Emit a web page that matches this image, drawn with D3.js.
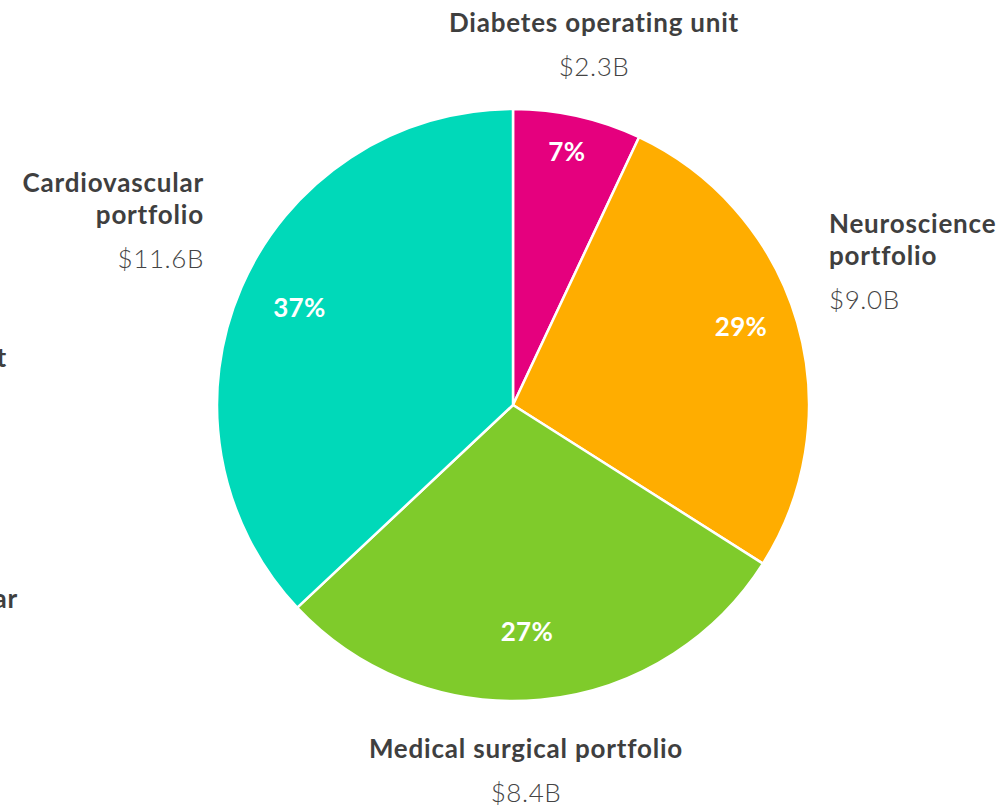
<!DOCTYPE html>
<meta charset="utf-8">
<head>
<title>Portfolio pie</title>
<script src="https://d3js.org/d3.v7.min.js"></script>
<style>
  body { margin: 0; background: #fff; }
  svg text { font-family: Lato, "Open Sans", sans-serif; }
  .name { font-weight: 700; fill: #3f3f3f; font-size: 26px; letter-spacing: 0.8px; }
  .value { font-weight: 300; fill: #444; font-size: 26px; letter-spacing: 0.6px; }
  .pct { font-weight: 700; fill: #fff; font-size: 26px; letter-spacing: 0.3px; }
</style>
</head>
<body>
<div id="chart"></div>
<script>
  // data (slice sizes follow the drawn geometry)
  let names = [["Diabetes operating unit"], ["Neuroscience", "portfolio"], ["Medical surgical portfolio"], ["Cardiovascular", "portfolio"]];
  let values = ["$2.3B", "$9.0B", "$8.4B", "$11.6B"];
  let pctLabels = ["7%", "29%", "27%", "37%"];
  let shares = [7, 27, 29, 37];
  let colors = ["#e5007e", "#ffad00", "#7fcb2b", "#00d9b9"];

  let w = 998, h = 808;
  let cx = 513, cy = 405, r = 296;

  // where the outside labels go: x, first baseline, anchor
  let labelPos = [[594, 32, "middle"], [829, 233, "start"], [526, 758, "middle"], [204, 192, "end"]];
  // percent labels: distance from centre and a small angle nudge (degrees)
  let pctRadius = [259, 241, 227, 235];
  let pctNudge = [-0.6, -2.7, 1.9, 1.2];

  let svg = d3.select("#chart").append("svg")
      .attr("width", w)
      .attr("height", h);

  let pie = d3.pie().sort(null).value((d) => d);
  let arcs = pie(shares);

  let arc = d3.arc().innerRadius(0).outerRadius(r);

  let g = svg.append("g").attr("transform", "translate(" + cx + "," + cy + ")");

  g.selectAll("path")
   .data(arcs)
   .enter()
   .append("path")
   .attr("d", arc)
   .style("fill", (d, i) => colors[i])
   .style("stroke", "white")
   .style("stroke-width", 2.5)
   .style("stroke-linejoin", "round");

  g.selectAll("text.pct")
   .data(arcs)
   .enter()
   .append("text")
   .attr("class", "pct")
   .attr("transform", (d, i) => {
       let a = (d.startAngle + d.endAngle) / 2 + pctNudge[i] * Math.PI / 180;
       let c = d3.arc().innerRadius(pctRadius[i]).outerRadius(pctRadius[i])
                 .startAngle(a).endAngle(a).centroid();
       return "translate(" + c[0] + "," + c[1] + ")";
   })
   .attr("text-anchor", "middle")
   .attr("dy", "0.36em")
   .text((d, i) => pctLabels[i]);

  // outside labels
  names.forEach((lines, i) => {
      let p = labelPos[i];
      let t = svg.append("g");
      lines.forEach((line, j) => {
          t.append("text")
           .attr("class", "name")
           .attr("x", p[0])
           .attr("y", p[1] + j * 32)
           .attr("text-anchor", p[2])
           .text(line);
      });
      t.append("text")
       .attr("class", "value")
       .attr("x", p[0])
       .attr("y", p[1] + (lines.length - 1) * 32 + 44)
       .attr("text-anchor", p[2])
       .text(values[i]);
  });

  // bits of labels from a neighbouring chart that spill in at the left edge
  svg.append("text").attr("class", "name").attr("x", 7).attr("y", 367)
     .attr("text-anchor", "end").text("Diabetes operating unit");
  svg.append("text").attr("class", "name").attr("x", 18).attr("y", 608)
     .attr("text-anchor", "end").text("Cardiovascular");
</script>
</body>
